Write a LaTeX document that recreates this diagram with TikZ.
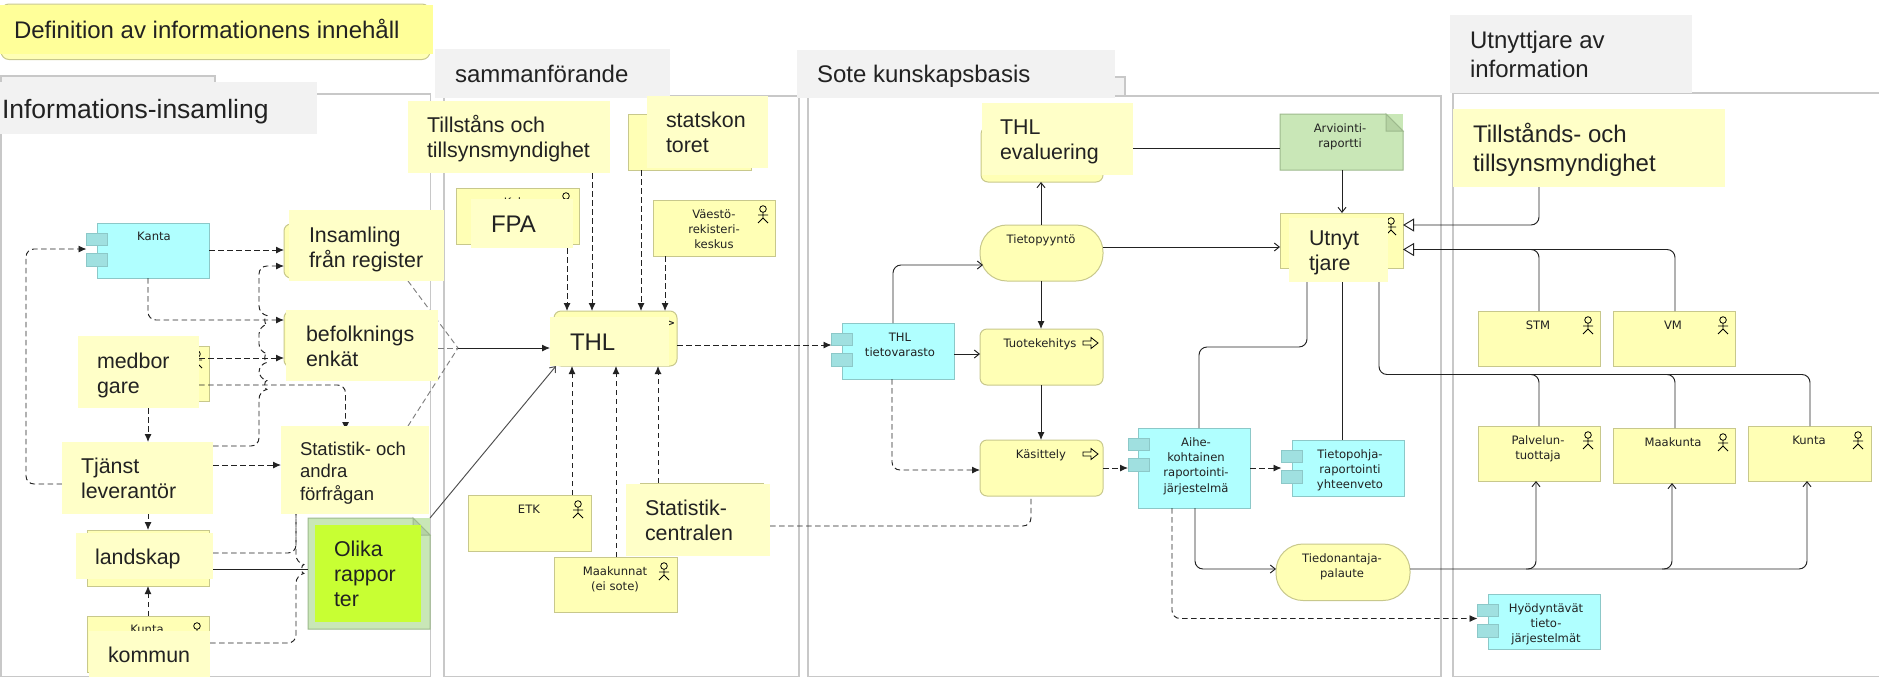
\documentclass[tikz,border=0pt]{standalone}
\usepackage{fontspec}
\setmainfont{Liberation Sans}
\newfontfamily\boxfont{DejaVu Sans}
\usetikzlibrary{arrows.meta,calc}
\pgfdeclarelayer{front}
\pgfsetlayers{main,front}
\definecolor{baseY}{HTML}{FFFFB5}
\definecolor{edgeY}{HTML}{C8C88C}
\definecolor{noteY}{HTML}{FFFFC8}
\definecolor{titleY}{HTML}{FFFF99}
\definecolor{baseC}{HTML}{B0FFFF}
\definecolor{edgeC}{HTML}{8CC8C8}
\definecolor{tabC}{HTML}{A0E0E0}
\definecolor{baseG}{HTML}{C9E7B7}
\definecolor{edgeG}{HTML}{9DB98D}
\definecolor{foldG}{HTML}{B5D3A3}
\definecolor{limeN}{HTML}{C8FF33}
\definecolor{headG}{HTML}{F2F2F2}
\definecolor{frameG}{HTML}{C8C8C8}
\definecolor{inkK}{HTML}{222222}
\newcommand\LL[1]{\begin{tabular}[t]{@{}l@{}}#1\end{tabular}}
\newcommand\CC[1]{\begin{tabular}[t]{@{}c@{}}#1\end{tabular}}
\newcommand\bx[6]{\node[#1,anchor=north west,minimum width={(#5-#3)*1pt},minimum height={(#6-#4)*1pt}] (#2) at (#3,#4) {};}
\newcommand\blab[4]{\node[boxlab] (#1) at (#2,#3) {\CC{#4}};}
\newcommand\tlab[5][notelab]{\node[#1] (#2) at (#3,#4) {\LL{#5}};}
\newcommand\comp[5]{%
  \bx{compbox}{#1}{#2}{#3}{#4}{#5}
  \node[tabbox,anchor=north west] (#1-a) at ({#2-10.5},{#3+10}) {};
  \node[tabbox,anchor=north west] (#1-b) at ({#2-10.5},{#3+30.5}) {};}
\newcommand\docu[5]{%
  \bx{docanchor}{#1}{#2}{#3}{#4}{#5}
  \draw[docline] (#1.north west) -- ([xshift=-17pt]#1.north east) -- ([yshift=-17pt]#1.north east) -- (#1.south east) -- (#1.south west) -- cycle;
  \draw[docline,fill=foldG] ([xshift=-17pt]#1.north east) -- ([xshift=-17pt,yshift=-17pt]#1.north east) -- ([yshift=-17pt]#1.north east) -- cycle;}
\newcommand\procicon[2]{\draw[black,fill=baseY,line width=.8pt] ({#1-7},{#2-2}) -- ({#1+1},{#2-2}) -- ({#1+1},{#2-5.5}) -- ({#1+8},{#2}) -- ({#1+1},{#2+5.5}) -- ({#1+1},{#2+2}) -- ({#1-7},{#2+2}) -- cycle;}
\tikzset{
  every node/.style={inner sep=0pt,outer sep=0pt},
  actor/.pic={\draw[black,line width=.8pt] (0,4) circle[radius=3.3pt] (0,7.4) -- (0,13) (-5,10) -- (5,10) (-5,18) -- (0,13) -- (5,18);},
  framebox/.style={draw=frameG,line width=1.5pt,fill=white},
  tabgrey/.style={draw=frameG,line width=1.2pt,fill=headG},
  headbox/.style={fill=headG},
  ybox/.style={draw=edgeY,line width=1pt,fill=baseY},
  yround/.style={ybox,rounded corners=7pt},
  ypill/.style={ybox,rounded corners=27pt},
  compbox/.style={draw=edgeC,line width=1pt,fill=baseC},
  tabbox/.style={draw=edgeC,line width=1pt,fill=tabC,minimum width=21pt,minimum height=12.5pt},
  docanchor/.style={fill=baseG},
  docline/.style={draw=edgeG,line width=1pt,fill=baseG},
  notebox/.style={fill=noteY},
  limebox/.style={fill=limeN},
  boxlab/.style={anchor=base,text=inkK,font=\boxfont\fontsize{11.6}{15.4}\selectfont},
  notelab/.style={anchor=base west,text=inkK,font=\fontsize{21.4}{25}\selectfont},
  biglab/.style={anchor=base west,text=inkK,font=\fontsize{24}{29}\selectfont},
  hugelab/.style={anchor=base west,text=inkK,font=\fontsize{26.5}{30}\selectfont},
  smalllab/.style={anchor=base west,text=inkK,font=\fontsize{18.5}{22.5}\selectfont},
  sline/.style={inkK,line width=.95pt,rounded corners=8pt},
  dline/.style={inkK,line width=.95pt,rounded corners=8pt,dash pattern=on 5.5pt off 3.5pt},
  gline/.style={gray,line width=.95pt,dash pattern=on 5.5pt off 3.5pt},
  tipF/.style={-{Latex[length=8pt,width=7pt]}},
  tipO/.style={-{Straight Barb[length=5pt,width=8pt]}},
  tipH/.style={-{Triangle[open,fill=white,length=11pt,width=13pt]}},
}
\begin{document}
\begin{tikzpicture}[x=1pt,y=-1pt]
\useasboundingbox (0,0) rectangle (1879,678);
% ---- frames
\bx{tabgrey}{tabA}{1}{76}{215}{100}
\bx{tabgrey}{tabB}{1100}{77}{1125}{100}
\bx{framebox}{frameA}{1}{94}{430.5}{676.5}
\bx{framebox}{frameB}{444}{96}{799}{676.5}
\bx{framebox}{frameC}{808}{96}{1441}{676.5}
\bx{framebox}{frameD}{1453}{93}{1890}{676.5}
% ---- title
\bx{ybox,rounded corners=8pt}{titleBase}{1}{4}{430}{59.5}
% ---- underlying elements, column 1
\comp{kanta}{97}{223}{209}{278}
\blab{kanta-t}{154}{240}{Kanta}
\bx{yround}{insamB}{284}{224}{406}{278}
\bx{yround}{befolkB}{284}{311}{406}{367}
\bx{ybox}{medB}{87}{346}{209}{401}
\pic at (197,350) {actor};
\bx{ybox}{landB}{87}{530}{209}{586}
\bx{ybox}{kuntaB}{87}{616}{209}{672}
\blab{kuntaB-t}{147}{633}{Kunta}
\pic at (197,622) {actor};
\docu{olikaB}{308}{518}{430}{629}
% ---- column 2
\bx{ybox}{kelaB}{456}{188}{579}{244}
\blab{kelaB-t}{516}{206}{Kela}
\pic at (566,192) {actor};
\bx{ybox}{skB}{628}{114}{751}{170}
\bx{ybox}{vrk}{653}{200}{775.5}{256}
\blab{vrk-t}{714}{218}{Väestö-\\rekisteri-\\keskus}
\pic at (763,205) {actor};
\bx{yround}{thl}{554}{311}{677}{366}
\node[font=\boxfont\fontsize{13}{15}\selectfont,text=inkK] (thl-c) at (670,324) {>};
\bx{ybox}{etk}{468}{495}{591}{551}
\blab{etk-t}{529}{513}{ETK}
\pic at (578,500) {actor};
\bx{ybox}{maak}{554}{557}{677}{612}
\blab{maak-t}{615}{575}{Maakunnat\\(ei sote)}
\pic at (664,562) {actor};
\bx{ybox}{statB}{640}{483}{763}{539}
% ---- column 3
\bx{yround}{evalB}{981}{127}{1103}{182}
\docu{arv}{1280}{114}{1403}{170}
\blab{arv-t}{1340}{132}{Arviointi-\\raportti}
\bx{ybox}{utnB}{1280}{213}{1403}{268}
\pic at (1391,217) {actor};
\bx{ypill}{tpy}{980}{225}{1103}{281}
\blab{tpy-t}{1041}{243}{Tietopyyntö}
\bx{yround}{tuo}{980}{329}{1103}{385}
\blab{tuo-t}{1040}{347}{Tuotekehitys}
\procicon{1090}{343}
\bx{yround}{kas}{980}{440}{1103}{496}
\blab{kas-t}{1041}{458}{Käsittely}
\procicon{1090}{454}
\comp{thlv}{842}{323}{954}{379}
\blab{thlv-t}{900}{341}{THL\\tietovarasto}
\comp{aihe}{1138.5}{428}{1250}{508}
\blab{aihe-t}{1196}{446}{Aihe-\\kohtainen\\raportointi-\\järjestelmä}
\comp{tpoh}{1292}{440}{1404.5}{496}
\blab{tpoh-t}{1350}{458}{Tietopohja-\\raportointi\\yhteenveto}
\bx{ypill}{tied}{1276}{544}{1410}{600.5}
\blab{tied-t}{1342}{562}{Tiedonantaja-\\palaute}
% ---- column 4
\bx{ybox}{stm}{1478}{311}{1600.5}{366}
\blab{stm-t}{1538}{329}{STM}
\pic at (1588,316) {actor};
\bx{ybox}{vm}{1613}{311}{1735.5}{366}
\blab{vm-t}{1673}{329}{VM}
\pic at (1723,316) {actor};
\bx{ybox}{palv}{1478}{426}{1600.5}{481}
\blab{palv-t}{1538}{444}{Palvelun-\\tuottaja}
\pic at (1588,431) {actor};
\bx{ybox}{maa}{1613}{428}{1735.5}{483}
\blab{maa-t}{1673}{446}{Maakunta}
\pic at (1723,433) {actor};
\bx{ybox}{kun}{1748}{426}{1871}{481}
\blab{kun-t}{1809}{444}{Kunta}
\pic at (1858,431) {actor};
\comp{hyod}{1488}{594}{1600.5}{649}
\blab{hyod-t}{1546}{612}{Hyödyntävät\\tieto-\\järjestelmät}
% ---- overlay notes and headings
\begin{pgfonlayer}{front}
\bx{fill=titleY}{title}{0}{5}{433}{54}
\tlab[biglab]{title-t}{14}{38}{Definition av informationens innehåll}
\bx{headbox}{headA}{0}{82}{317}{134}
\tlab[hugelab]{headA-t}{2}{118}{Informations-insamling}
\bx{headbox}{headB}{435}{49}{670}{98}
\tlab[biglab]{headB-t}{455}{82}{sammanförande}
\bx{headbox}{headC}{797}{50}{1115}{98}
\tlab[biglab]{headC-t}{817}{82}{Sote kunskapsbasis}
\bx{headbox}{headD}{1450}{15}{1692}{93}
\tlab[biglab]{headD-t}{1470}{48}{Utnyttjare av\\information}
\bx{notebox}{insam}{289}{210}{444}{281}
\tlab{insam-t}{309}{242}{Insamling\\från register}
\bx{notebox}{befolk}{286}{310}{438}{381}
\tlab{befolk-t}{306}{341}{befolknings\\enkät}
\bx{notebox}{med}{78}{336}{199}{408}
\tlab{med-t}{97}{368}{medbor\\gare}
\bx{notebox}{tjanst}{62}{442}{213}{513.5}
\tlab{tjanst-t}{81}{473}{Tjänst\\leverantör}
\bx{notebox}{stat}{281}{426}{429}{514}
\tlab[smalllab]{stat-t}{300}{455}{Statistik- och\\andra\\förfrågan}
\bx{notebox}{land}{76}{533}{213}{579}
\tlab{land-t}{95}{564}{landskap}
\bx{notebox}{komm}{89}{631}{210}{677}
\tlab{komm-t}{108}{662}{kommun}
\bx{limebox}{olika}{315}{525}{421}{622}
\tlab{olika-t}{334}{556}{Olika\\rappor\\ter}
\bx{notebox}{till}{408}{101}{610}{173}
\tlab{till-t}{427}{132}{Tillståns och\\tillsynsmyndighet}
\bx{notebox}{fpa}{471}{199}{573}{248}
\tlab[biglab]{fpa-t}{491}{232}{FPA}
\bx{notebox}{sk}{647}{96}{768}{168}
\tlab{sk-t}{666}{127}{statskon\\toret}
\bx{notebox}{thlN}{550}{317}{669}{366}
\tlab[biglab]{thlN-t}{570}{350}{THL}
\bx{notebox}{scen}{626}{484}{770}{556}
\tlab{scen-t}{645}{515}{Statistik-\\centralen}
\bx{notebox}{eval}{981.5}{103}{1133}{175}
\tlab{eval-t}{1000}{134}{THL\\evaluering}
\bx{notebox}{utn}{1289}{218}{1388}{282}
\tlab{utn-t}{1309}{245}{Utnyt\\tjare}
\bx{notebox}{tills}{1453}{109}{1725}{187}
\tlab[biglab]{tills-t}{1473}{142}{Tillstånds- och\\tillsynsmyndighet}
\end{pgfonlayer}
% ---- connectors, column 1
\draw[dline,tipF] (tjanst.west |- 0,484) -- (26,484) -- (26,249) -- (kanta-a.west |- 0,249);
\draw[dline,tipF] (kanta.east |- 0,250) -- (insamB.west |- 0,250);
\draw[dline,tipF] (148,0 |- kanta.south) -- (148,320) -- (befolkB.west |- 0,320);
\draw[dline,tipF] (tjanst.east |- 0,446) -- (259,446) -- (259,391) .. controls (264,390) and (264,380) .. (259,379) -- (259,364) .. controls (264,363) and (264,353) .. (259,352) -- (259,326) .. controls (264,325) and (264,315) .. (259,314) -- (259,266) -- (insamB.west |- 0,266);
\draw[dline,tipF] (med.east |- 0,358) -- (befolkB.west |- 0,358);
\draw[dline,tipF,shorten >=-4pt] (med.east |- 0,385) -- (345.5,385) -- (345.5,0 |- stat.north);
\draw[dline,tipF] (148,0 |- med.south) -- (148,0 |- tjanst.north);
\draw[dline,tipF] (tjanst.east |- 0,465) -- (stat.west |- 0,465);
\draw[dline,tipF] (148,0 |- tjanst.south) -- (148,0 |- landB.north);
\draw[dline,tipF] (148,0 |- kuntaB.north) -- (148,0 |- landB.south);
\draw[dline] (land.east |- 0,553) -- (296,553) -- (296,0 |- stat.south);
\draw[dline] (komm.east |- 0,643) -- (296,643) -- (296,575) .. controls (301,574) and (301,564) .. (296,563) -- (296,0 |- stat.south);
\draw[sline] (land.east |- 0,569) -- (olikaB.west |- 0,569);
\coordinate (fan) at (458,348);
\draw[gline] (408,0 |- insam.south) -- (fan);
\draw[gline] (408,0 |- stat.north) -- (fan);
\draw[gline] (befolk.east |- fan) -- (fan);
\draw[sline,tipF] (fan) -- (thlN.west |- fan);
\draw[inkK!80,line width=.95pt,tipO] (olikaB.north east) -- (556,0 |- thl.south);
% ---- column 2
\draw[dline,tipF] (567,0 |- fpa.south) -- (567,0 |- thl.north);
\draw[dline,tipF] (592,0 |- till.south) -- (592,0 |- thl.north);
\draw[dline,tipF] (641,0 |- skB.south) -- (641,0 |- thl.north);
\draw[dline,tipF] (665,0 |- vrk.south) -- (665,0 |- thl.north);
\draw[dline,tipF] (572,0 |- etk.north) -- (572,0 |- thl.south);
\draw[dline,tipF] (616,0 |- maak.north) -- (616,0 |- thl.south);
\draw[dline,tipF] (658,0 |- statB.north) -- (658,0 |- thl.south);
\draw[dline,tipF] (thl.east |- 0,345) -- (thlv-a.west |- 0,345);
\draw[dline] (scen.east |- 0,526) -- (1031,526) -- (1031,0 |- kas.south);
% ---- column 3
\draw[sline,tipO] (893,0 |- thlv.north) -- (893,265) -- (983,265);
\draw[sline,tipO] (thlv.east |- 0,354) -- (tuo.west |- 0,354);
\draw[dline,tipF] (892,0 |- thlv.south) -- (892,470) -- (kas.west |- 0,470);
\draw[sline,tipO] (1041,0 |- tpy.north) -- (1041,0 |- evalB.south);
\draw[sline,tipF] (1041,0 |- tpy.south) -- (1041,0 |- tuo.north);
\draw[sline,tipF] (1041,0 |- tuo.south) -- (1041,0 |- kas.north);
\draw[sline,tipO] (tpy.east |- 0,247) -- (utnB.west |- 0,247);
\draw[sline] (eval.east |- 0,148) -- (arv.west |- 0,148);
\draw[sline,tipO] (1342,0 |- arv.south) -- (1342,0 |- utnB.north);
\draw[dline,tipF] (kas.east |- 0,468) -- (aihe-b.west |- 0,468);
\draw[dline,tipF] (aihe.east |- 0,468) -- (tpoh-a.west |- 0,468);
\draw[sline] (1307,0 |- utn.south) -- (1307,347) -- (1199,347) -- (1199,0 |- aihe.north);
\draw[sline] (1342,0 |- utn.south) -- (1342,0 |- tpoh.north);
\draw[sline,tipO] (1195,0 |- aihe.south) -- (1195,569) -- (tied.west |- 0,569);
\draw[dline,tipF] (1172,0 |- aihe.south) -- (1172,618.5) -- (hyod-a.west |- 0,618.5);
% ---- column 4
\coordinate (joinV) at (1530,249.5);
\coordinate (joinU) at (1526,374.5);
\coordinate (joinW) at (1662,374.5);
\coordinate (joinT) at (1526,569);
\coordinate (joinS) at (1662,569);
\draw[sline,tipH] (1539,0 |- tills.south) -- (1539,225) -- (utnB.east |- 0,225);
\draw[sline,tipH] (1539,0 |- stm.north) -- (1539,249.5) -- (utnB.east |- 0,249.5);
\draw[sline] (1675,0 |- vm.north) -- (1675,249.5) -- (joinV);
\draw[sline] (1379,0 |- utn.south) -- (1379,374.5) -- (1539,374.5) -- (1539,0 |- palv.north);
\draw[sline] (joinU) -- (1675,374.5) -- (1675,0 |- maa.north);
\draw[sline] (joinW) -- (1810,374.5) -- (1810,0 |- kun.north);
\draw[sline,tipO] (tied.east |- 0,569) -- (1536,569) -- (1536,0 |- palv.south);
\draw[sline,tipO] (joinT) -- (1672,569) -- (1672,0 |- maa.south);
\draw[sline,tipO] (joinS) -- (1807,569) -- (1807,0 |- kun.south);
\end{tikzpicture}
\end{document}
